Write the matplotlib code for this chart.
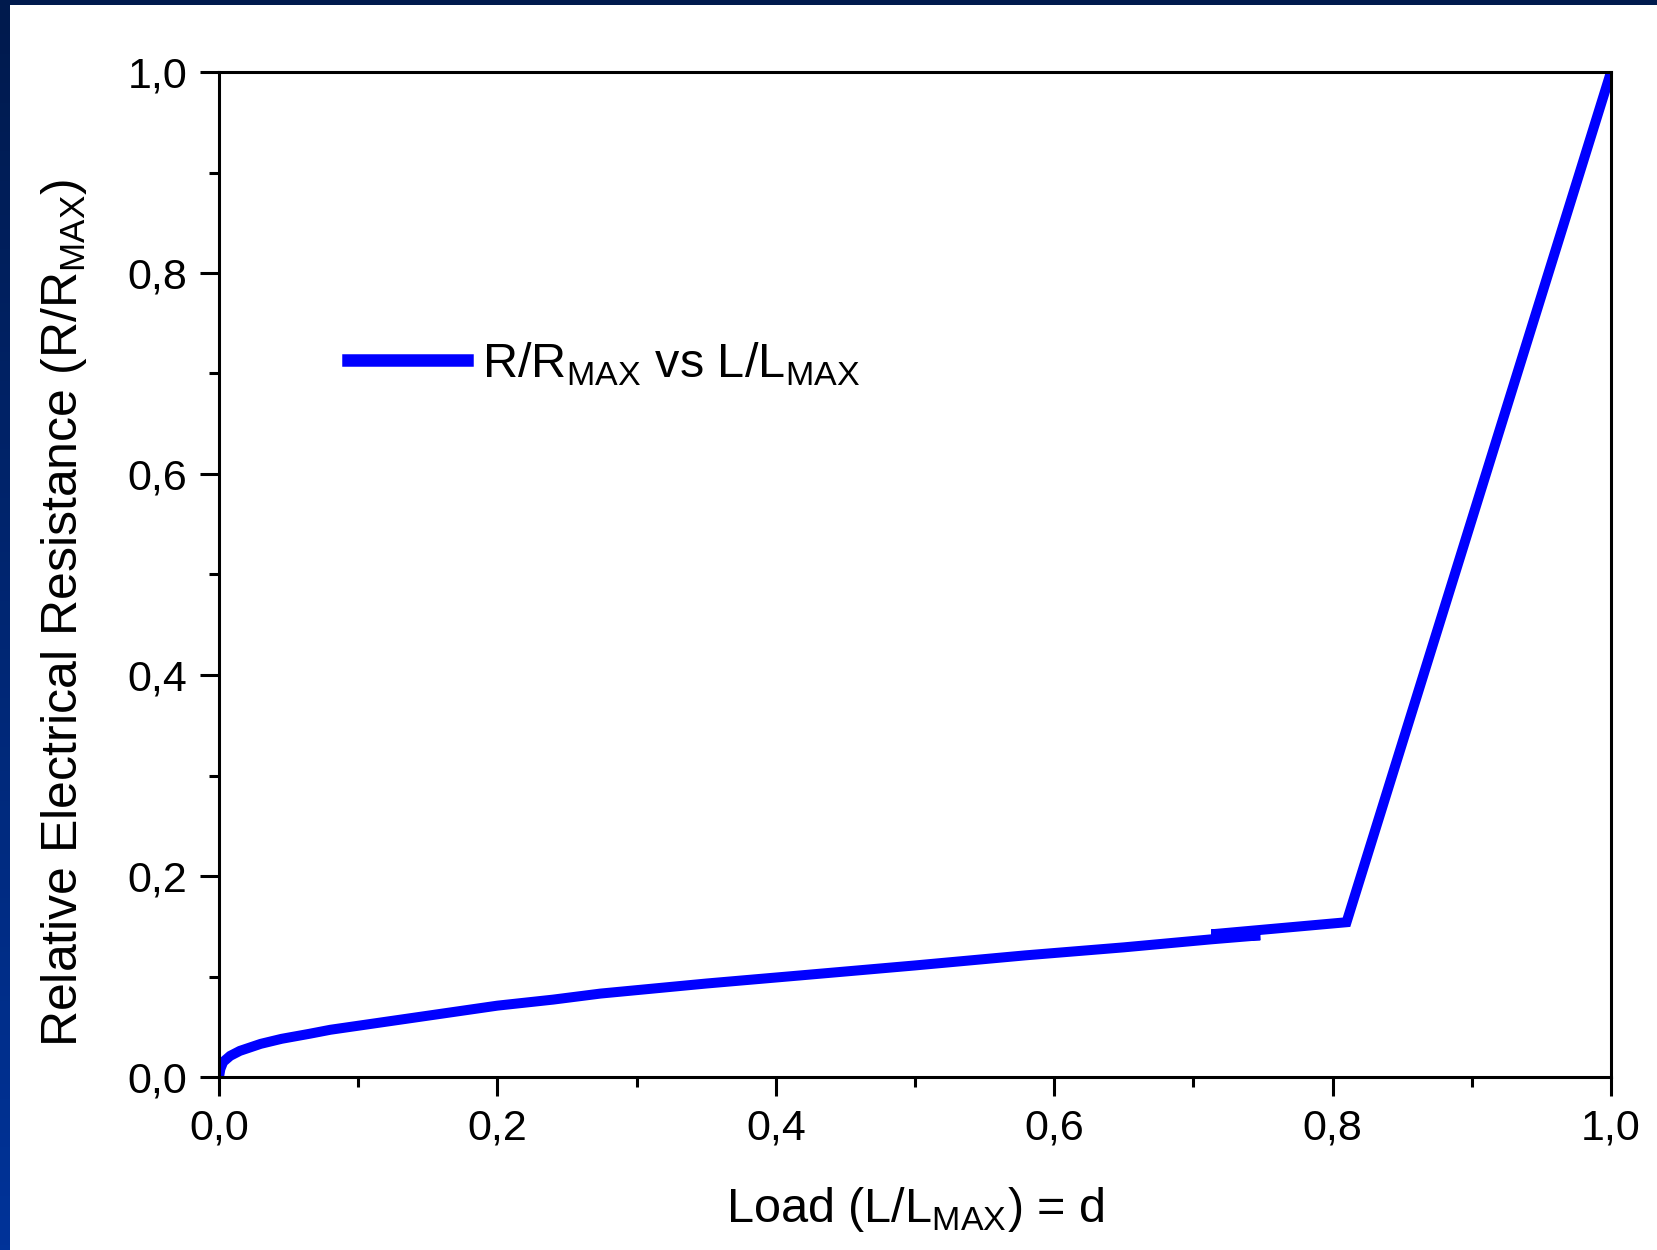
import matplotlib.pyplot as plt
import matplotlib.ticker as ticker
from matplotlib.colors import LinearSegmentedColormap
import numpy as np

# Curve (relative load vs relative resistance).
load = [0.0, 0.001, 0.003, 0.008, 0.015, 0.03, 0.045, 0.065, 0.08, 0.1, 0.135,
        0.165, 0.2, 0.24, 0.274, 0.35, 0.417, 0.5, 0.579, 0.65, 0.713, 0.748,
        0.713, 0.81, 1.0]
resistance = [0.0, 0.008, 0.015, 0.021, 0.026, 0.033, 0.038, 0.043, 0.047, 0.051,
              0.058, 0.064, 0.071, 0.077, 0.083, 0.093, 0.101, 0.111, 0.121, 0.129,
              0.137, 0.141, 0.142, 0.154, 1.0]

tick_vals = [0.0, 0.2, 0.4, 0.6, 0.8, 1.0]
tick_labels = ['0,0', '0,2', '0,4', '0,6', '0,8', '1,0']

plt.rcParams['font.family'] = ['Liberation Sans', 'DejaVu Sans']
plt.rcParams['mathtext.fontset'] = 'custom'
plt.rcParams['mathtext.rm'] = 'Liberation Sans'

W, H = 1657, 1250
fig = plt.figure(figsize=(W / 100, H / 100), dpi=100)
fig.patch.set_facecolor('white')

# Dark blue slide frame: band on top and gradient band on the left.
band = fig.add_axes([0, 0, 10 / W, 1])
grad = np.linspace(0, 1, 256).reshape(-1, 1)
cmap = LinearSegmentedColormap.from_list('frame', ['#001a4d', '#003399'])
band.imshow(grad, aspect='auto', cmap=cmap, extent=[0, 1, 0, 1])
band.axis('off')
top = fig.add_axes([0, 1 - 5 / H, 1, 5 / H])
top.set_facecolor('#001a4d')
top.set_xticks([])
top.set_yticks([])
for s in top.spines.values():
    s.set_visible(False)

ax = fig.add_axes([219 / W, 1 - 1077 / H, (1611 - 219) / W, (1077 - 72) / H])
ax.plot(load, resistance, color='#0000ff', lw=7.2, solid_joinstyle='miter',
        label=r'R/R$_{\mathregular{MAX}}$ vs L/L$_{\mathregular{MAX}}$')

ax.set_xlim(0, 1)
ax.set_ylim(0, 1)
ax.set_xticks(tick_vals)
ax.set_xticklabels(tick_labels)
ax.set_yticks(tick_vals)
ax.set_yticklabels(tick_labels)
ax.xaxis.set_minor_locator(ticker.MultipleLocator(0.1))
ax.yaxis.set_minor_locator(ticker.MultipleLocator(0.1))
ax.tick_params(which='major', direction='out', length=14, width=2.2,
               labelsize=31, pad=9)
ax.tick_params(which='minor', direction='out', length=7, width=2.2)
for s in ax.spines.values():
    s.set_linewidth(2.2)

fig.text(915 / W, 1 - 1210 / H, r'Load (L/L$_{\mathregular{MAX}}$) = d',
         ha='center', va='center', fontsize=35)
fig.text(64 / W, 1 - 613 / H,
         r'Relative Electrical Resistance (R/R$_{\mathregular{MAX}}$)',
         ha='center', va='center', rotation=90, fontsize=36)

leg = ax.legend(loc='center left', bbox_to_anchor=(348 / W, 1 - 364 / H),
                bbox_transform=fig.transFigure, frameon=False, fontsize=35,
                borderpad=0, borderaxespad=0, handlelength=2.45,
                handletextpad=0.3)
leg.get_lines()[0].set_linewidth(9.0)

fig.savefig('out.png', dpi=100)
